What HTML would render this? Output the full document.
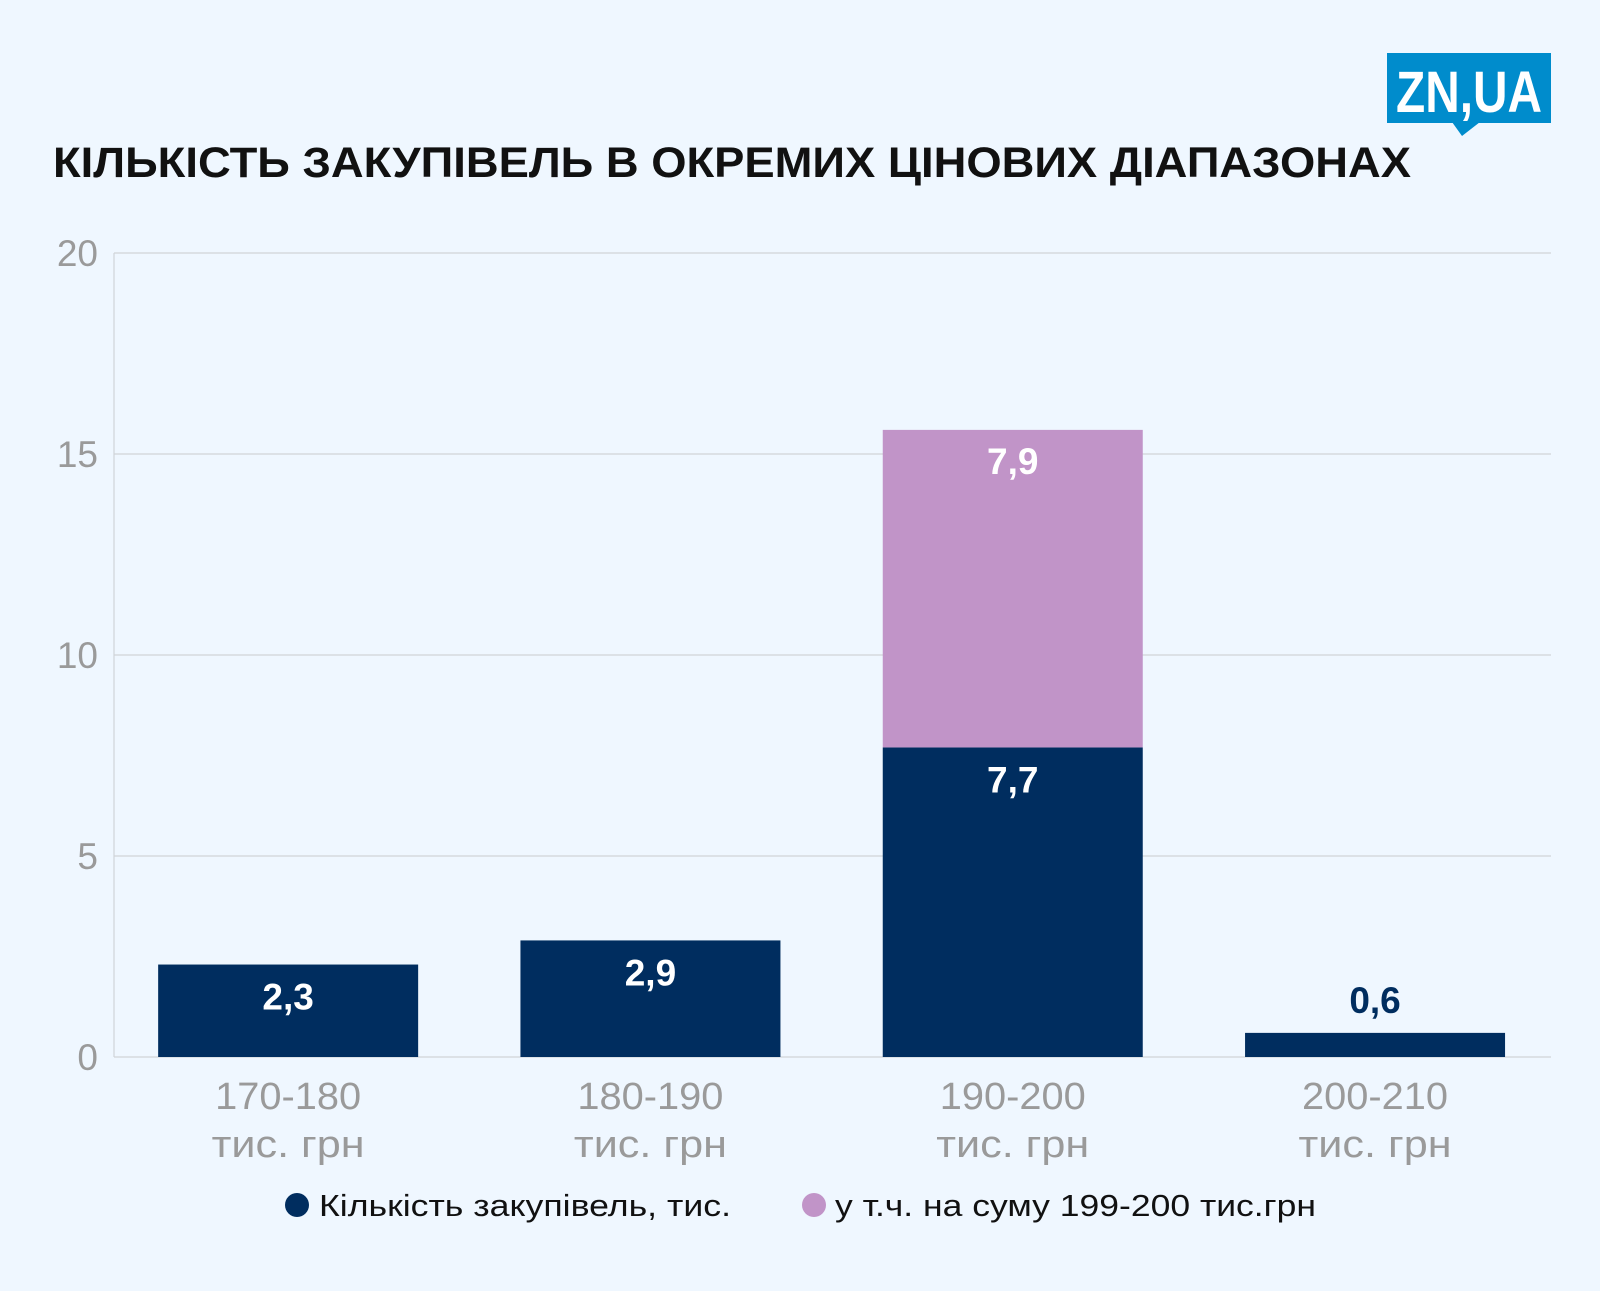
<!DOCTYPE html>
<html><head><meta charset="utf-8"><style>
body{margin:0;background:#eff7ff;width:1600px;height:1286px;overflow:hidden;font-family:"Liberation Sans",sans-serif}
</style></head><body>
<svg width="1600" height="1286" viewBox="0 0 1600 1286" xmlns="http://www.w3.org/2000/svg">
<rect width="1600" height="1286" fill="#eff7ff"/>
<g>
<rect x="1387" y="53" width="164" height="70" fill="#008ccc"/>
<path d="M1452 122 L1462 136 L1480 122 Z" fill="#008ccc"/>
<text x="1469" y="112" text-anchor="middle" font-size="58" font-weight="bold" fill="#fff" textLength="146" lengthAdjust="spacingAndGlyphs" font-family="Liberation Sans Narrow, Liberation Sans, sans-serif">ZN,UA</text>
</g>
<text x="53" y="177" font-size="43" font-weight="bold" fill="#111" textLength="1358" lengthAdjust="spacingAndGlyphs">КІЛЬКІСТЬ ЗАКУПІВЕЛЬ В ОКРЕМИХ ЦІНОВИХ ДІАПАЗОНАХ</text>
<g id="grid"></g><g id="bars"></g><g id="labels"></g>
<g>
<circle cx="297" cy="1205" r="12" fill="#002d5f"/>
<text x="319" y="1216" font-size="31" fill="#111" textLength="412" lengthAdjust="spacingAndGlyphs">Кількість закупівель, тис.</text>
<circle cx="814" cy="1205" r="12" fill="#c194c8"/>
<text x="835" y="1216" font-size="31" fill="#111" textLength="481" lengthAdjust="spacingAndGlyphs">у т.ч. на суму 199-200 тис.грн</text>
</g>
</svg>
<script>
const categories=["170-180","180-190","190-200","200-210"];
const baseValues=[2.3,2.9,7.7,0.6];
const subValues=[0,0,7.9,0];
const baseLabels=["2,3","2,9","7,7","0,6"];
const subLabels=["","","7,9",""];
const yTicks=[0,5,10,15,20];
const NS="http://www.w3.org/2000/svg";
const y0=1057,y1=253,yMax=20;
const y=v=>y0-(v/yMax)*(y0-y1);
const bandStart=107,band=362.3,bw=260;
const xc=i=>bandStart+band*(i+0.5);
function mk(t,a,p){const e=document.createElementNS(NS,t);for(const k in a)e.setAttribute(k,a[k]);p.appendChild(e);return e;}
const grid=document.getElementById('grid'),bars=document.getElementById('bars'),labels=document.getElementById('labels');
yTicks.forEach(t=>{
  const l=mk('line',{x1:114,x2:1551,y1:y(t),y2:y(t),stroke:'#d0d4d8','stroke-width':1.2},grid);
  
  
  const tx=mk('text',{x:98,y:y(t)+13,'text-anchor':'end','font-size':37,fill:'#9a9a9a'},grid);
  tx.textContent=t;
  
  
});
const ax=mk('line',{x1:114,x2:114,y1:y1,y2:y0,stroke:'#d0d4d8','stroke-width':1.2},grid);


categories.forEach((c,i)=>{
  const x=xc(i)-bw/2;
  const b=mk('rect',{x:x,y:y(baseValues[i]),width:bw,height:y0-y(baseValues[i]),fill:'#002d5f'},bars);
  
  
  if(subValues[i]>0){
    const top=baseValues[i]+subValues[i];
    const s=mk('rect',{x:x,y:y(top),width:bw,height:y(baseValues[i])-y(top),fill:'#c194c8'},bars);
    
    
    const st=mk('text',{x:xc(i),y:y(top)+44,'text-anchor':'middle','font-size':37,'font-weight':'bold',fill:'#fff'},labels);
    st.textContent=subLabels[i];
    
    
  }
  const inside=baseValues[i]>1;
  const vt=mk('text',{x:xc(i),y:inside?y(baseValues[i])+45:y(baseValues[i])-20,'text-anchor':'middle','font-size':37,'font-weight':'bold',fill:inside?'#fff':'#002d5f'},labels);
  vt.textContent=baseLabels[i];
  
  
  const t1=mk('text',{x:xc(i),y:1109,'text-anchor':'middle','font-size':38,fill:'#9a9a9a',textLength:146,lengthAdjust:'spacingAndGlyphs'},labels);
  t1.textContent=c;
  
  
  const t2=mk('text',{x:xc(i),y:1157,'text-anchor':'middle','font-size':38,fill:'#9a9a9a',textLength:153,lengthAdjust:'spacingAndGlyphs'},labels);
  t2.textContent='тис. грн';
  
  
});
</script>
</body></html>
